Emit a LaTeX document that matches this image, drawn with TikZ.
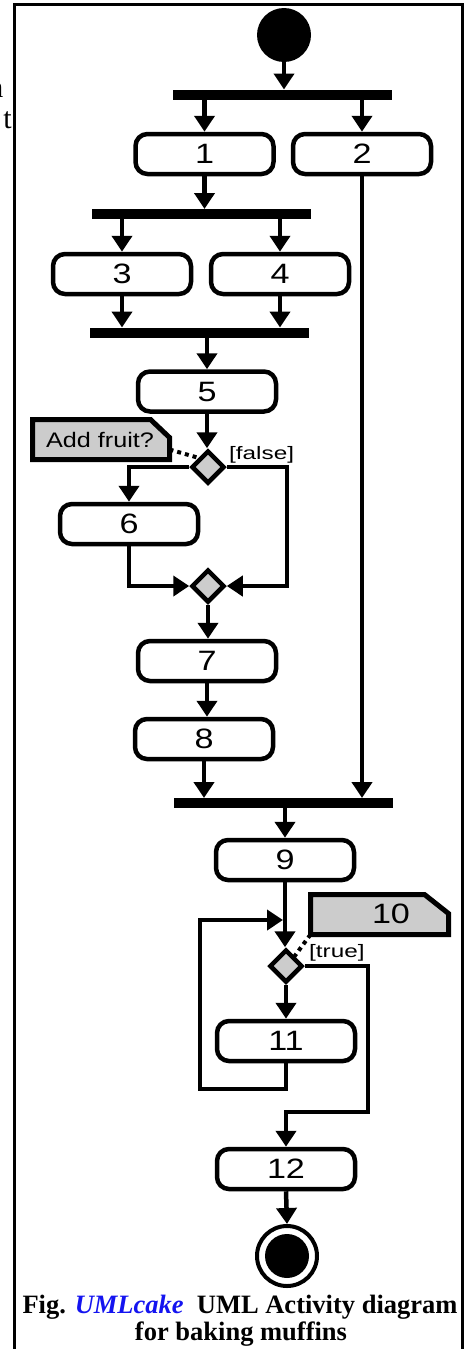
\documentclass[tikz,border=0pt]{standalone}
\usepackage{fontspec}
\setmainfont{Liberation Serif}
\newfontfamily\digitfamily[FakeStretch=1.22]{Liberation Sans}
\newfontfamily\notefamily[FakeStretch=1.2]{Liberation Sans}
\newfontfamily\guardfamily[FakeStretch=1.35]{Liberation Sans}
\usetikzlibrary{shapes.geometric,arrows.meta}
\definecolor{notegray}{RGB}{204,204,204}
\definecolor{capblue}{RGB}{20,20,240}
\begin{document}
\begin{tikzpicture}[x=1pt,y=-1pt,
  act/.style={draw, rounded corners=12pt, line width=4.5pt, minimum width=138pt, minimum height=40pt, inner sep=0pt, font=\digitfamily\fontsize{28}{30}\selectfont},
  bar/.style={fill=black, minimum width=219pt, minimum height=10pt, inner sep=0pt, outer sep=0pt},
  dec/.style={diamond, draw, fill=notegray, line width=4.5pt, minimum width=33pt, minimum height=33pt, inner sep=0pt},
  arr/.style={line width=4.5pt, -{Triangle[width=20pt,length=16pt]}},
  flow/.style={line width=4.5pt},
  notebox/.style={minimum width=137pt, minimum height=40pt, inner sep=0pt, outer sep=0pt},
  noteline/.style={draw, fill=notegray, line width=5pt, line join=miter},
  dots/.style={line width=4pt, dash pattern=on 4pt off 4pt},
  guard/.style={inner sep=0pt, font=\guardfamily\fontsize{18}{20}\selectfont},
  notetext/.style={inner sep=0pt, font=\notefamily\fontsize{21}{23}\selectfont},
  notedigit/.style={inner sep=0pt, font=\digitfamily\fontsize{28}{30}\selectfont},
  captext/.style={inner sep=0pt, font=\fontsize{26.5}{28}\selectfont\bfseries},
  fragtext/.style={inner sep=0pt, font=\fontsize{30}{30}\selectfont},
]
\useasboundingbox (0,0) rectangle (466,1349);
\fill[white] (0,0) rectangle (466,1349);
% frame
\draw[line width=3pt] (14,4) rectangle (462,1370);
% fragments of neighbouring text
\node[fragtext, anchor=base east] (frag1) at (3.5,97) {n};
\node[fragtext, anchor=base east] (frag2) at (12,128) {t};

% nodes
\node[circle, fill=black, minimum size=54pt, inner sep=0pt] (start) at (284,35) {};
\node[bar] (bar1) at (282.5,94.5) {};
\node[act] (n1) at (204.5,154) {1};
\node[act] (n2) at (362,154) {2};
\node[bar] (bar2) at (201.5,214) {};
\node[act] (n3) at (122,274) {3};
\node[act] (n4) at (280,274) {4};
\node[bar] (bar3) at (199.5,332.5) {};
\node[act] (n5) at (207,391.5) {5};
\node[act] (n6) at (129,524) {6};
\node[act] (n7) at (207,661) {7};
\node[act] (n8) at (204,739) {8};
\node[bar] (bar4) at (283.5,803) {};
\node[act] (n9) at (285,860) {9};
\node[act] (n11) at (286,1041) {11};
\node[act] (n12) at (286,1169) {12};
\node[circle, draw, line width=4pt, minimum size=60pt, inner sep=0pt] (end) at (287,1256) {};
\fill (end.center) circle[radius=22pt];

% notes (boxes first, dotted links drawn under diamonds)
\node[notebox] (note1) at (101,439.5) {};
\node[notebox, minimum width=138pt] (note2) at (379.5,914.5) {};

\coordinate (dotA) at ([yshift=10pt]note1.south east);
\coordinate (dotB) at (199,458);
\draw[dots] (dotA) -- (dotB);
\coordinate (dotC) at (note2.south west);
\coordinate (dotD) at (294,957);
\draw[dots] (dotC) -- (dotD);

\path[noteline] (note1.south west) -- (note1.north west) -- ([xshift=-19pt]note1.north east) -- ([yshift=-18pt]note1.north east) -- (note1.south east) -- cycle;
\path[noteline] (note2.south west) -- (note2.north west) -- ([xshift=-24pt]note2.north east) -- ([yshift=-19pt]note2.north east) -- (note2.south east) -- cycle;
\node[notetext] (t1) at (100,440) {Add fruit?};
\node[notedigit] (t10) at (391,914) {10};

% connectors
\draw[arr] (start.south) -- (start.south |- bar1.north);
\draw[arr] (bar1.south -| n1) -- (n1.north);
\draw[arr] (bar1.south -| n2) -- (n2.north);
\draw[arr] (n1.south) -- (n1.south |- bar2.north);
\draw[arr] (bar2.south -| n3) -- (n3.north);
\draw[arr] (bar2.south -| n4) -- (n4.north);
\draw[arr] (n3.south) -- (n3.south |- bar3.north);
\draw[arr] (n4.south) -- (n4.south |- bar3.north);
\draw[arr] (bar3.south -| n5) -- (n5.north);

\node[dec] (d1) at (208,467) {};
\node[dec] (d2) at (208,586) {};
\node[dec] (d3) at (286,966) {};

\draw[arr] (n5.south) -- (n5.south |- d1.north);
\draw[arr] (d1.west) -| (n6.north);
\coordinate (cR1) at (287,520);
\draw[arr] (d1.east) -| (cR1) |- (d2.east);
\draw[arr] (n6.south) |- (d2.west);
\draw[arr] (d2.south) -- (d2.south |- n7.north);
\draw[arr] (n7.south) -- (n7.south |- n8.north);
\draw[arr] (n8.south) -- (n8.south |- bar4.north);
\draw[arr] (n2.south) -- (n2.south |- bar4.north);
\draw[arr] (bar4.south -| n9) -- (n9.north);
\draw[arr] (n9.south) -- (n9.south |- d3.north);
\draw[arr] (d3.south) -- (n11.north);
\coordinate (cL1) at (200,1089);
\coordinate (cLtip) at (283,920);
\draw[arr] (n11.south) |- (cL1) |- (cLtip);
\coordinate (cR2) at (368,1040);
\coordinate (cR3) at (286,1112);
\draw[arr] (d3.east) -| (cR2) |- (cR3) -- (n12.north);
\draw[arr] (n12.south) -- (end.north);

% guards
\node[guard, anchor=west] (gf) at (229,455) {[false]};
\node[guard, anchor=west] (gt) at (309,953) {[true]};

% caption
\node[captext, anchor=base] (cap1) at (240,1313) {Fig. {\color{capblue}\itshape UMLcake}\ \ UML Activity diagram};
\node[captext, anchor=base] (cap2) at (241,1340) {for baking muffins};
\end{tikzpicture}
\end{document}
